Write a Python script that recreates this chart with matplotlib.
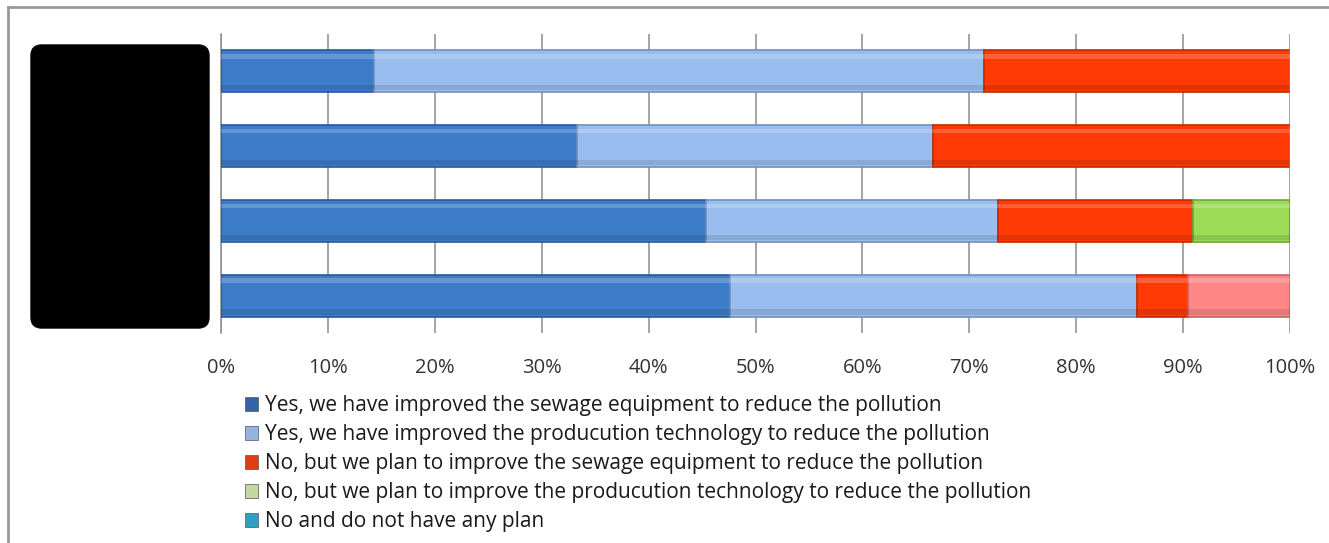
import matplotlib
matplotlib.use("Agg")
import matplotlib.pyplot as plt
import numpy as np
from matplotlib.patches import FancyBboxPatch, Patch
from matplotlib.lines import Line2D

plt.rcParams['font.family'] = ['Open Sans', 'DejaVu Sans']

# rows top to bottom (labels are blacked out in the original)
rows = ["A", "B", "C", "D"]
series = [
    "Yes, we have improved the sewage equipment to reduce the pollution",
    "Yes, we have improved the producution technology to reduce the pollution",
    "No, but we plan to improve the sewage equipment to reduce the pollution",
    "No, but we plan to improve the producution technology to reduce the pollution",
    "No and do not have any plan",
    "_other",
]
sewage_done = [14.3, 33.3, 45.4, 47.6]
tech_done = [57.1, 33.3, 27.3, 38.1]
sewage_plan = [28.6, 33.4, 18.2, 4.8]
tech_plan = [0, 0, 9.1, 0]
no_plan = [0, 0, 0, 0]
other = [0, 0, 0, 9.5]

values = [sewage_done, tech_done, sewage_plan, tech_plan, no_plan, other]
bar_colors = ["#3d7cc9", "#99bdee", "#ff3a05", "#9bdb55", "#31b5d0", "#ff8686"]
edge_colors = ["#2a5a96", "#6f90c0", "#c22a00", "#6ea83a", "#1f8aa0", "#d06060"]
legend_colors = ["#3164a8", "#93b3e0", "#e23c12", "#c5d8a0", "#2f9fc4"]

fig = plt.figure(figsize=(13.29, 5.43), dpi=100)
ax = fig.add_axes([221 / 1329, 1 - 333 / 543, (1290 - 221) / 1329, 299 / 543])

y = np.arange(len(rows))
left = np.zeros(len(rows))
for vals, c, ec in zip(values, bar_colors, edge_colors):
    vals = np.array(vals, dtype=float)
    ax.barh(y, vals, left=left, height=0.565, color=c, edgecolor=ec,
            linewidth=1.2, zorder=3)
    # bevel: light strip on top, darker strip at the bottom
    ax.barh(y - 0.2, vals, left=left, height=0.06, color="white",
            alpha=0.2, linewidth=0, zorder=4)
    ax.barh(y + 0.22, vals, left=left, height=0.07, color="black",
            alpha=0.1, linewidth=0, zorder=4)
    left += vals

ax.set_xlim(0, 100)
ax.set_ylim(3.5, -0.5)
ax.set_xticks(np.arange(0, 101, 10))
ax.set_xticklabels([f"{t}%" for t in range(0, 101, 10)], fontsize=14.5,
                   color="#333333")
ax.tick_params(axis="x", length=0, pad=18)
ax.set_yticks([])
ax.grid(axis="x", color="#8c8c8c", linewidth=1.1, zorder=0)
for s in ["top", "right", "bottom"]:
    ax.spines[s].set_visible(False)
ax.spines["left"].set_color("#8c8c8c")
ax.spines["left"].set_linewidth(1.1)

# redacted category labels
fig.patches.append(FancyBboxPatch((31 / 1329, 1 - 328 / 543), 178 / 1329, 283 / 543,
                                  boxstyle="round,pad=0,rounding_size=0.008",
                                  transform=fig.transFigure, facecolor="black",
                                  edgecolor="black", mutation_aspect=1329 / 543))

# outer frame (top and left visible)
fig.lines.append(Line2D([8 / 1329, 1], [1 - 7 / 543, 1 - 7 / 543],
                        transform=fig.transFigure, color="#999999", linewidth=2))
fig.lines.append(Line2D([8 / 1329, 8 / 1329], [1 - 7 / 543, 0],
                        transform=fig.transFigure, color="#999999", linewidth=2))

handles = [Patch(facecolor=c, edgecolor="#555555", linewidth=0.5)
           for c in legend_colors]
fig.legend(handles, series[:5], loc="upper left",
           bbox_to_anchor=(235 / 1329, 1 - 385 / 543), frameon=False,
           fontsize=15, handlelength=0.62, handleheight=0.62,
           handletextpad=0.3, labelspacing=0.38, borderpad=0,
           labelcolor="#1a1a1a")

fig.savefig("out.png", dpi=100)
